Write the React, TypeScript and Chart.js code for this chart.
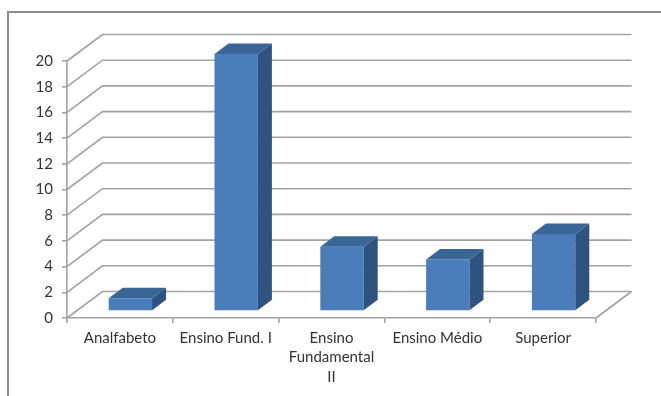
import React, { useEffect, useRef } from 'react';
import { Chart, registerables } from 'chart.js';

Chart.register(...registerables);

const categories: (string | string[])[] = ['Analfabeto', 'Ensino Fund. I', ['Ensino', 'Fundamental', 'II'], 'Ensino Médio', 'Superior'];
const values: number[] = [1, 20, 5, 4, 6];
const yMin = 0;
const yMax = 20;
const yStep = 2;

const GRID = '#a2a2a2';
const TEXT = '#333333';
const FRONT = '#4a7ebb';
const SIDE = '#2f5380';
const TOP = '#3a6597';

const PLANE_DX = 10.5;
const PLANE_DY = -7;
const BACK_DX = 35.5;
const BACK_DY = -26.5;
const DEPTH_DX = 14;
const DEPTH_DY = -10.5;

const threeD = {
  id: 'threeD',
  beforeDatasetsDraw(chart: any) {
    const { ctx, chartArea, scales } = chart;
    const { left, right, bottom } = chartArea;
    const y = scales.y;
    ctx.save();
    ctx.strokeStyle = GRID;
    ctx.lineWidth = 1.6;
    y.ticks.forEach((t: any) => {
      const py = y.getPixelForValue(t.value);
      ctx.beginPath();
      ctx.moveTo(left, py);
      ctx.lineTo(left + BACK_DX, py + BACK_DY);
      ctx.lineTo(right + BACK_DX, py + BACK_DY);
      ctx.stroke();
    });
    ctx.beginPath();
    ctx.moveTo(right, bottom);
    ctx.lineTo(right + BACK_DX, bottom + BACK_DY);
    ctx.stroke();
    ctx.restore();
  },
  beforeDatasetDraw(chart: any) {
    chart.ctx.save();
    chart.ctx.translate(PLANE_DX, PLANE_DY);
  },
  afterDatasetDraw(chart: any, args: any) {
    const ctx = chart.ctx;
    args.meta.data.forEach((el: any) => {
      const { x, y, base, width } = el.getProps(['x', 'y', 'base', 'width'], true);
      const l = x - width / 2;
      const r = x + width / 2;
      const t = Math.min(y, base);
      const b = Math.max(y, base);
      ctx.fillStyle = SIDE;
      ctx.beginPath();
      ctx.moveTo(r, t);
      ctx.lineTo(r + DEPTH_DX, t + DEPTH_DY);
      ctx.lineTo(r + DEPTH_DX, b + DEPTH_DY);
      ctx.lineTo(r, b);
      ctx.closePath();
      ctx.fill();
      ctx.fillStyle = TOP;
      ctx.beginPath();
      ctx.moveTo(l, t);
      ctx.lineTo(l + DEPTH_DX, t + DEPTH_DY);
      ctx.lineTo(r + DEPTH_DX, t + DEPTH_DY);
      ctx.lineTo(r, t);
      ctx.closePath();
      ctx.fill();
    });
    ctx.restore();
  },
};

export default function App() {
  const ref = useRef<HTMLCanvasElement>(null);
  useEffect(() => {
    if (!ref.current) return;
    const chart = new Chart(ref.current, {
      type: 'bar',
      data: {
        labels: categories,
        datasets: [
          {
            data: values,
            backgroundColor: FRONT,
            borderWidth: 0,
            categoryPercentage: 1,
            barPercentage: 0.41,
            clip: false as any,
          },
        ],
      },
      options: {
        responsive: false,
        animation: false,
        events: [],
        layout: { padding: { left: 0, top: 61, right: 65, bottom: 0 } },
        plugins: { legend: { display: false }, tooltip: { enabled: false } },
        scales: {
          x: {
            grid: { offset: true, drawOnChartArea: false, color: GRID, tickLength: 5, lineWidth: 1.6 },
            border: { color: GRID, width: 1.6 },
            ticks: {
              color: TEXT,
              font: { family: 'Lato', size: 15, lineHeight: 1.3 },
              padding: 5,
              maxRotation: 0,
              autoSkip: false,
            },
            afterFit: (s: any) => { s.height = 78; },
          },
          y: {
            min: yMin,
            max: yMax,
            grid: { drawOnChartArea: false, color: GRID, tickLength: 5, lineWidth: 1.6 },
            border: { color: GRID, width: 1.6 },
            ticks: {
              stepSize: yStep,
              color: TEXT,
              font: { family: 'Lato', size: 15 },
              padding: 9,
            },
            afterFit: (s: any) => { s.width = 67; },
          },
        },
      },
      plugins: [threeD],
    });
    return () => chart.destroy();
  }, []);
  return (
    <div style={{ position: 'absolute', left: 0, top: 0, width: 661, height: 396, background: '#fff', overflow: 'hidden' }}>
      <div style={{ position: 'absolute', left: 7, top: 11, width: 720, height: 420, borderTop: '2px solid #8c8c8c', borderLeft: '2px solid #8c8c8c' }} />
      <canvas ref={ref} width={661} height={396} style={{ position: 'absolute', left: 0, top: 0, width: 661, height: 396 }} />
    </div>
  );
}
